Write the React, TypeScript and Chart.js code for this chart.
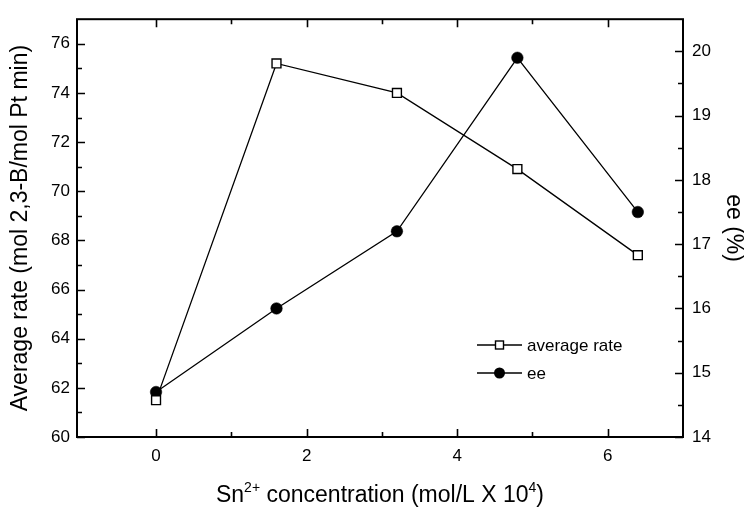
import React, { useEffect, useRef } from "react";
import { Chart, registerables } from "chart.js";

Chart.register(...registerables);

const concentrations = [0, 1.6, 3.2, 4.8, 6.4];
const averageRate = [61.5, 75.2, 74.0, 70.9, 67.4];
const eeValues = [14.7, 16.0, 17.2, 19.9, 17.5];
const seriesLabels = ["average rate", "ee"];

const xMajorTicks = [0, 2, 4, 6];
const xMinorTicks = [1, 3, 5];
const yLeftMajorTicks = [60, 62, 64, 66, 68, 70, 72, 74, 76];
const yLeftMinorTicks = [61, 63, 65, 67, 69, 71, 73, 75];
const yRightMajorTicks = [14, 15, 16, 17, 18, 19, 20];
const yRightMinorTicks = [14.5, 15.5, 16.5, 17.5, 18.5, 19.5];

const leftTitle = "Average rate (mol 2,3-B/mol Pt min)";
const rightTitle = "ee (%)";
const xTitleParts: { text: string; sup: boolean }[] = [
  { text: "Sn", sup: false },
  { text: "2+", sup: true },
  { text: " concentration (mol/L X 10", sup: false },
  { text: "4", sup: true },
  { text: ")", sup: false },
];

const FONT = "'Liberation Sans', Arial, Helvetica, sans-serif";

const framePlugin = {
  id: "frame",
  beforeDatasetsDraw(chart: any) {
    const { ctx, chartArea, scales } = chart;
    const { left, right, top, bottom } = chartArea;
    ctx.save();
    ctx.strokeStyle = "#000";
    ctx.lineWidth = 2;
    ctx.strokeRect(left, top, right - left, bottom - top);
    ctx.lineWidth = 1.6;
    const major = 8;
    const minor = 5;
    ctx.beginPath();
    const xt = (vals: number[], len: number) => {
      for (const v of vals) {
        const px = Math.round(scales.x.getPixelForValue(v)) + 0.5;
        ctx.moveTo(px, bottom);
        ctx.lineTo(px, bottom - len);
        ctx.moveTo(px, top);
        ctx.lineTo(px, top + len);
      }
    };
    const yl = (vals: number[], len: number) => {
      for (const v of vals) {
        const py = Math.round(scales.y.getPixelForValue(v)) + 0.5;
        ctx.moveTo(left, py);
        ctx.lineTo(left + len, py);
      }
    };
    const yr = (vals: number[], len: number) => {
      for (const v of vals) {
        const py = Math.round(scales.y1.getPixelForValue(v)) + 0.5;
        ctx.moveTo(right, py);
        ctx.lineTo(right - len, py);
      }
    };
    xt(xMajorTicks, major);
    xt(xMinorTicks, minor);
    yl(yLeftMajorTicks, major);
    yl(yLeftMinorTicks, minor);
    yr(yRightMajorTicks, major);
    yr(yRightMinorTicks, minor);
    ctx.stroke();
    ctx.restore();
  },
  afterDraw(chart: any) {
    const { ctx, chartArea } = chart;
    const { left, right, bottom } = chartArea;
    ctx.save();
    ctx.fillStyle = "#000";
    // x-axis title with superscripts
    const mainSize = 23;
    const supSize = 14;
    const widths = xTitleParts.map((p) => {
      ctx.font = `${p.sup ? supSize : mainSize}px ${FONT}`;
      return ctx.measureText(p.text).width;
    });
    const total = widths.reduce((a, b) => a + b, 0);
    let x = (left + right) / 2 - total / 2;
    const baseY = bottom + 65;
    ctx.textBaseline = "alphabetic";
    ctx.textAlign = "left";
    xTitleParts.forEach((p, i) => {
      ctx.font = `${p.sup ? supSize : mainSize}px ${FONT}`;
      ctx.fillText(p.text, x, p.sup ? baseY - 10 : baseY);
      x += widths[i];
    });

    // legend inside plot
    const ds = chart.data.datasets;
    const lx0 = left + 400;
    const lx1 = left + 445;
    const mx = (lx0 + lx1) / 2;
    const tx = lx1 + 5;
    const rows = [bottom - 92, bottom - 64];
    ds.forEach((d: any, i: number) => {
      const y = rows[i];
      ctx.strokeStyle = d.borderColor;
      ctx.lineWidth = d.borderWidth;
      ctx.beginPath();
      ctx.moveTo(lx0, y);
      ctx.lineTo(lx1, y);
      ctx.stroke();
      if (d.pointStyle === "rect") {
        const s = 8;
        ctx.fillStyle = d.pointBackgroundColor;
        ctx.fillRect(mx - s / 2, y - s / 2, s, s);
        ctx.lineWidth = 1.4;
        ctx.strokeRect(mx - s / 2, y - s / 2, s, s);
      } else {
        ctx.fillStyle = d.pointBackgroundColor;
        ctx.beginPath();
        ctx.arc(mx, y, 5.5, 0, Math.PI * 2);
        ctx.fill();
      }
      ctx.fillStyle = "#000";
      ctx.font = `17px ${FONT}`;
      ctx.textBaseline = "middle";
      ctx.fillText(d.label, tx, y + 1);
    });
    ctx.restore();
  },
};

export default function App() {
  const ref = useRef<HTMLCanvasElement | null>(null);

  useEffect(() => {
    if (!ref.current) return;
    const chart = new Chart(ref.current, {
      type: "line",
      data: {
        datasets: [
          {
            label: seriesLabels[0],
            data: concentrations.map((c, i) => ({ x: c, y: averageRate[i] })),
            yAxisID: "y",
            borderColor: "#000",
            borderWidth: 1.3,
            pointStyle: "rect",
            pointRadius: 6.3,
            pointBorderWidth: 1.4,
            pointBackgroundColor: "#fff",
            pointBorderColor: "#000",
            fill: false,
            tension: 0,
          },
          {
            label: seriesLabels[1],
            data: concentrations.map((c, i) => ({ x: c, y: eeValues[i] })),
            yAxisID: "y1",
            borderColor: "#000",
            borderWidth: 1.3,
            pointStyle: "circle",
            pointRadius: 5.8,
            pointBorderWidth: 0.5,
            pointBackgroundColor: "#000",
            pointBorderColor: "#000",
            fill: false,
            tension: 0,
          },
        ],
      },
      options: {
        animation: false,
        responsive: false,
        layout: { padding: { top: 13, left: 0, right: 0, bottom: 0 } },
        plugins: {
          legend: { display: false },
          tooltip: { enabled: false },
        },
        scales: {
          x: {
            type: "linear",
            min: -1.05,
            max: 7,
            grid: { display: false, drawTicks: false },
            border: { display: false },
            afterBuildTicks: (s: any) => {
              s.ticks = xMajorTicks.map((v) => ({ value: v }));
            },
            afterFit: (s: any) => {
              s.height = 71;
            },
            ticks: {
              color: "#000",
              padding: 9,
              font: { family: FONT, size: 17 },
            },
          },
          y: {
            position: "left",
            min: 60,
            max: 77,
            grid: { display: false, drawTicks: false },
            border: { display: false },
            afterBuildTicks: (s: any) => {
              s.ticks = yLeftMajorTicks.map((v) => ({ value: v }));
            },
            afterFit: (s: any) => {
              s.width = 77;
            },
            ticks: {
              color: "#000",
              padding: 7,
              font: { family: FONT, size: 17 },
            },
            title: {
              display: true,
              text: leftTitle,
              color: "#000",
              font: { family: FONT, size: 23 },
              padding: { top: 7, bottom: 0 },
            },
          },
          y1: {
            position: "right",
            min: 14,
            max: 20.5,
            grid: { display: false, drawTicks: false },
            border: { display: false },
            afterBuildTicks: (s: any) => {
              s.ticks = yRightMajorTicks.map((v) => ({ value: v }));
            },
            afterFit: (s: any) => {
              s.width = 61;
            },
            ticks: {
              color: "#000",
              padding: 9,
              font: { family: FONT, size: 17 },
            },
            title: {
              display: true,
              text: rightTitle,
              color: "#000",
              font: { family: FONT, size: 23 },
              padding: { top: -3, bottom: 0 },
            },
          },
        },
      },
      plugins: [framePlugin],
    });
    return () => chart.destroy();
  }, []);

  return (
    <div style={{ position: "absolute", left: 0, top: 0, width: 744, height: 508, background: "#fff" }}>
      <canvas ref={ref} width={744} height={508} style={{ width: 744, height: 508 }} />
    </div>
  );
}
